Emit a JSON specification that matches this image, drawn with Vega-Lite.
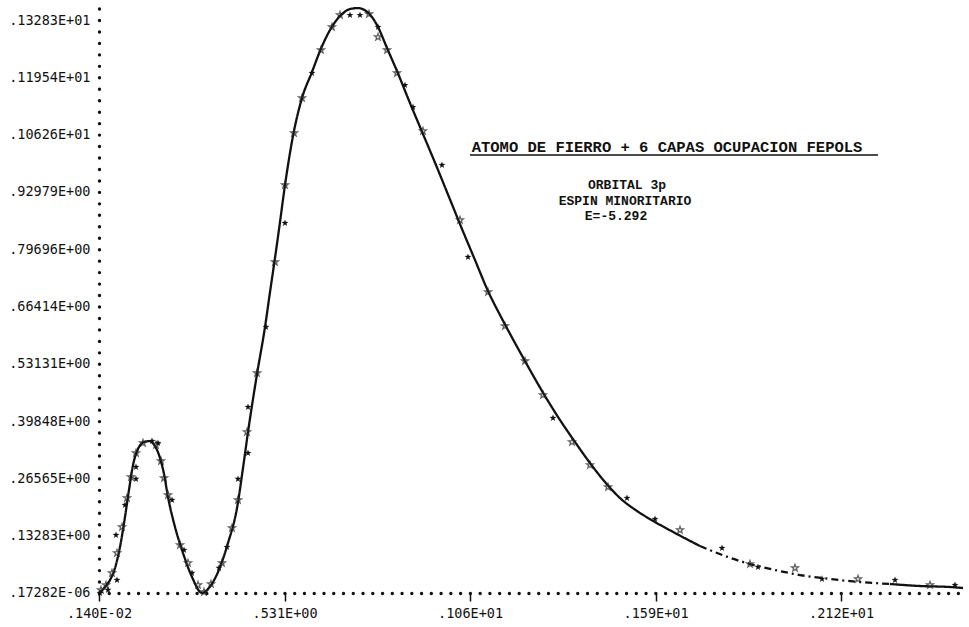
{
  "$schema": "https://vega.github.io/schema/vega-lite/v6.json",
  "width": 864,
  "height": 588,
  "autosize": "none",
  "padding": {"left": 99, "top": 5, "right": 6, "bottom": 34},
  "background": "white",
  "config": {
    "view": {"stroke": null},
    "axis": {
      "grid": false,
      "title": null,
      "domainColor": "#111",
      "domainCap": "round",
      "domainWidth": 3.4,
      "labelFont": "DejaVu Sans Mono",
      "labelFontSize": 13.5,
      "labelColor": "#111",
      "labelOverlap": false,
      "labelFlush": false
    }
  },
  "datasets": {
    "curve": [
      {"r": 0.0014, "p": 0.0, "seg": "a1"},
      {"r": 0.0185, "p": 0.0139, "seg": "a1"},
      {"r": 0.0328, "p": 0.0301, "seg": "a1"},
      {"r": 0.0471, "p": 0.058, "seg": "a1"},
      {"r": 0.0613, "p": 0.1066, "seg": "a1"},
      {"r": 0.0756, "p": 0.1762, "seg": "a1"},
      {"r": 0.087, "p": 0.2388, "seg": "a1"},
      {"r": 0.0985, "p": 0.2967, "seg": "a1"},
      {"r": 0.1127, "p": 0.3338, "seg": "a1"},
      {"r": 0.1299, "p": 0.35, "seg": "a1"},
      {"r": 0.147, "p": 0.3523, "seg": "a1"},
      {"r": 0.1613, "p": 0.3407, "seg": "a1"},
      {"r": 0.1755, "p": 0.3129, "seg": "a1"},
      {"r": 0.187, "p": 0.2758, "seg": "a1"},
      {"r": 0.1984, "p": 0.2225, "seg": "a1"},
      {"r": 0.2184, "p": 0.153, "seg": "a1"},
      {"r": 0.2412, "p": 0.0927, "seg": "a1"},
      {"r": 0.2669, "p": 0.0371, "seg": "a1"},
      {"r": 0.2954, "p": 0.0, "seg": "a1"},
      {"r": 0.3126, "p": 0.0093, "seg": "a1"},
      {"r": 0.3411, "p": 0.0487, "seg": "a1"},
      {"r": 0.3697, "p": 0.1159, "seg": "a1"},
      {"r": 0.3954, "p": 0.197, "seg": "a1"},
      {"r": 0.4125, "p": 0.2898, "seg": "a1"},
      {"r": 0.4268, "p": 0.3732, "seg": "a1"},
      {"r": 0.4525, "p": 0.5076, "seg": "a1"},
      {"r": 0.4753, "p": 0.6166, "seg": "a1"},
      {"r": 0.4896, "p": 0.6977, "seg": "a1"},
      {"r": 0.5038, "p": 0.7765, "seg": "a1"},
      {"r": 0.5181, "p": 0.86, "seg": "a1"},
      {"r": 0.5324, "p": 0.9457, "seg": "a1"},
      {"r": 0.5552, "p": 1.0593, "seg": "a1"},
      {"r": 0.5809, "p": 1.1474, "seg": "a1"},
      {"r": 0.6094, "p": 1.2077, "seg": "a1"},
      {"r": 0.6323, "p": 1.2564, "seg": "a1"},
      {"r": 0.6608, "p": 1.305, "seg": "a1"},
      {"r": 0.6894, "p": 1.3375, "seg": "a1"},
      {"r": 0.7179, "p": 1.3537, "seg": "a1"},
      {"r": 0.7407, "p": 1.356, "seg": "a1"},
      {"r": 0.7636, "p": 1.3491, "seg": "a1"},
      {"r": 0.7807, "p": 1.3352, "seg": "a1"},
      {"r": 0.7979, "p": 1.312, "seg": "a1"},
      {"r": 0.8236, "p": 1.2633, "seg": "a1"},
      {"r": 0.8521, "p": 1.21, "seg": "a1"},
      {"r": 0.8892, "p": 1.1358, "seg": "a1"},
      {"r": 0.9263, "p": 1.064, "seg": "a1"},
      {"r": 0.9634, "p": 0.9921, "seg": "a1"},
      {"r": 1.0006, "p": 0.9179, "seg": "a1"},
      {"r": 1.0377, "p": 0.8438, "seg": "a1"},
      {"r": 1.0748, "p": 0.7719, "seg": "a1"},
      {"r": 1.1119, "p": 0.7, "seg": "a1"},
      {"r": 1.1462, "p": 0.6444, "seg": "a1"},
      {"r": 1.189, "p": 0.5795, "seg": "a1"},
      {"r": 1.2318, "p": 0.5169, "seg": "a1"},
      {"r": 1.2747, "p": 0.4566, "seg": "a1"},
      {"r": 1.3175, "p": 0.401, "seg": "a1"},
      {"r": 1.3603, "p": 0.35, "seg": "a1"},
      {"r": 1.4031, "p": 0.3013, "seg": "a1"},
      {"r": 1.4459, "p": 0.2573, "seg": "a1"},
      {"r": 1.4887, "p": 0.2202, "seg": "a1"},
      {"r": 1.5373, "p": 0.1901, "seg": "a1"},
      {"r": 1.5887, "p": 0.1646, "seg": "a1"},
      {"r": 1.6458, "p": 0.1391, "seg": "a1"},
      {"r": 1.717, "p": 0.1089, "seg": "a1"},
      {"r": 1.717, "p": 0.1089, "seg": "b"},
      {"r": 1.7884, "p": 0.0858, "seg": "b"},
      {"r": 1.8598, "p": 0.0672, "seg": "b"},
      {"r": 1.9311, "p": 0.0533, "seg": "b"},
      {"r": 2.0025, "p": 0.0417, "seg": "b"},
      {"r": 2.0881, "p": 0.0325, "seg": "b"},
      {"r": 2.1738, "p": 0.0255, "seg": "b"},
      {"r": 2.2594, "p": 0.0209, "seg": "b"},
      {"r": 2.2594, "p": 0.0209, "seg": "a2"},
      {"r": 2.3451, "p": 0.0162, "seg": "a2"},
      {"r": 2.4307, "p": 0.0139, "seg": "a2"},
      {"r": 2.4679, "p": 0.0116, "seg": "a2"}
    ],
    "open": [
      {"r": 0.0071, "p": 0.007}, {"r": 0.0214, "p": 0.0185}, {"r": 0.0385, "p": 0.0464},
      {"r": 0.0528, "p": 0.0927}, {"r": 0.0671, "p": 0.153}, {"r": 0.0813, "p": 0.2202},
      {"r": 0.0928, "p": 0.2689}, {"r": 0.107, "p": 0.3245}, {"r": 0.127, "p": 0.3477},
      {"r": 0.1641, "p": 0.3431}, {"r": 0.1784, "p": 0.306}, {"r": 0.187, "p": 0.2666},
      {"r": 0.1984, "p": 0.2272}, {"r": 0.2327, "p": 0.1113}, {"r": 0.2555, "p": 0.0695},
      {"r": 0.284, "p": 0.0185}, {"r": 0.3011, "p": 0.0023}, {"r": 0.3211, "p": 0.0209},
      {"r": 0.3525, "p": 0.0695}, {"r": 0.3811, "p": 0.1507}, {"r": 0.3982, "p": 0.2156},
      {"r": 0.4239, "p": 0.3732}, {"r": 0.4525, "p": 0.51}, {"r": 0.5038, "p": 0.7673},
      {"r": 0.5324, "p": 0.9457}, {"r": 0.5581, "p": 1.0663}, {"r": 0.5809, "p": 1.1474},
      {"r": 0.6351, "p": 1.2587}, {"r": 0.6665, "p": 1.312}, {"r": 0.6894, "p": 1.3398},
      {"r": 0.7722, "p": 1.3421}, {"r": 0.7979, "p": 1.2888}, {"r": 0.8236, "p": 1.2587},
      {"r": 0.8521, "p": 1.2054}, {"r": 0.9263, "p": 1.0709}, {"r": 1.0319, "p": 0.8646},
      {"r": 1.1119, "p": 0.6977}, {"r": 1.1604, "p": 0.6189}, {"r": 1.2175, "p": 0.5378},
      {"r": 1.2689, "p": 0.459}, {"r": 1.3517, "p": 0.35}, {"r": 1.4031, "p": 0.2967},
      {"r": 1.4545, "p": 0.2457}, {"r": 1.66, "p": 0.146}, {"r": 1.8598, "p": 0.0672},
      {"r": 1.9883, "p": 0.058}, {"r": 2.1682, "p": 0.0325}, {"r": 2.3737, "p": 0.0185}
    ],
    "stars": [
      {"r": 0.0043, "p": 0.0}, {"r": 0.0271, "p": 0.007}, {"r": 0.0499, "p": 0.1344},
      {"r": 0.0528, "p": 0.0301}, {"r": 0.0756, "p": 0.204}, {"r": 0.107, "p": 0.2921},
      {"r": 0.107, "p": 0.2643}, {"r": 0.1527, "p": 0.3523}, {"r": 0.1698, "p": 0.3477},
      {"r": 0.2098, "p": 0.2156}, {"r": 0.2441, "p": 0.0997}, {"r": 0.2669, "p": 0.0464},
      {"r": 0.344, "p": 0.058}, {"r": 0.3668, "p": 0.1066}, {"r": 0.3982, "p": 0.2643},
      {"r": 0.4268, "p": 0.3245}, {"r": 0.4268, "p": 0.4311}, {"r": 0.4781, "p": 0.6166},
      {"r": 0.5324, "p": 0.8577}, {"r": 0.6094, "p": 1.2054}, {"r": 0.7179, "p": 1.3398},
      {"r": 0.7465, "p": 1.3398}, {"r": 0.7979, "p": 1.312}, {"r": 0.8749, "p": 1.1775},
      {"r": 0.8978, "p": 1.1265}, {"r": 0.9805, "p": 0.9921}, {"r": 1.0548, "p": 0.7789},
      {"r": 1.2974, "p": 0.4057}, {"r": 1.5087, "p": 0.2202}, {"r": 1.5887, "p": 0.1715},
      {"r": 1.7799, "p": 0.1043}, {"r": 1.8827, "p": 0.0603}, {"r": 2.0654, "p": 0.0325},
      {"r": 2.2738, "p": 0.0301}, {"r": 2.4451, "p": 0.0185}
    ],
    "title": [
      {"r": 1.6229, "p": 1.0338, "r2": 1.0605, "r3": 2.2252, "u": 1.0153, "label": "ATOMO DE FIERRO + 6 CAPAS OCUPACION FEPOLS"}
    ],
    "notes": [
      {"r": 1.5087, "p": 0.9457, "label": "ORBITAL 3p"},
      {"r": 1.503, "p": 0.9087, "label": "ESPIN MINORITARIO"},
      {"r": 1.4773, "p": 0.8739, "label": "E=-5.292"}
    ]
  },
  "layer": [
    {
      "data": {"name": "curve"},
      "mark": {"type": "line", "interpolate": "monotone", "strokeWidth": 2.3, "color": "#111"},
      "encoding": {
        "x": {
          "field": "r", "type": "quantitative",
          "scale": {"domain": [0.0014, 2.4679], "nice": false, "zero": false},
          "axis": {
            "values": [0.0014, 0.531, 1.0606, 1.5902, 2.1198],
            "labelExpr": "['.140E-02','.531E+00','.106E+01','.159E+01','.212E+01'][round((datum.value-0.0014)/0.5296)]",
            "domainDash": [0, 9.76],
            "ticks": true, "tickSize": 8, "tickWidth": 1.5, "tickColor": "#111",
            "labelPadding": 5
          }
        },
        "y": {
          "field": "p", "type": "quantitative",
          "scale": {"domain": [0, 1.3631], "nice": false, "zero": true},
          "axis": {
            "values": [1.7282e-7, 0.13283, 0.26565, 0.39848, 0.53131, 0.66414, 0.79696, 0.92979, 1.0626, 1.1954, 1.3283],
            "labelExpr": "['.17282E-06','.13283E+00','.26565E+00','.39848E+00','.53131E+00','.66414E+00','.79696E+00','.92979E+00','.10626E+01','.11954E+01','.13283E+01'][round(datum.value/0.13283)]",
            "domainDash": [0, 11.46],
            "ticks": false,
            "labelPadding": 9
          }
        },
        "strokeDash": {
          "field": "seg", "type": "nominal",
          "scale": {"domain": ["a1", "b", "a2"], "range": [[1, 0], [7, 4, 2, 4], [1, 0]]},
          "legend": null
        }
      }
    },
    {
      "data": {"name": "open"},
      "mark": {
        "type": "point", "filled": false, "size": 52, "strokeWidth": 1.3, "color": "#222",
        "shape": "M0,-1L0.235,-0.324L0.951,-0.309L0.38,0.124L0.588,0.809L0,0.4L-0.588,0.809L-0.38,0.124L-0.951,-0.309L-0.235,-0.324Z"
      },
      "encoding": {
        "x": {"field": "r", "type": "quantitative"},
        "y": {"field": "p", "type": "quantitative"}
      }
    },
    {
      "data": {"name": "stars"},
      "mark": {
        "type": "point", "filled": true, "size": 52, "opacity": 1, "color": "#111",
        "shape": "M0,-1L0.235,-0.324L0.951,-0.309L0.38,0.124L0.588,0.809L0,0.4L-0.588,0.809L-0.38,0.124L-0.951,-0.309L-0.235,-0.324Z"
      },
      "encoding": {
        "x": {"field": "r", "type": "quantitative"},
        "y": {"field": "p", "type": "quantitative"}
      }
    },
    {
      "data": {"name": "title"},
      "mark": {"type": "text", "font": "Liberation Mono", "fontWeight": "bold", "fontSize": 15.5, "color": "#111", "align": "center", "baseline": "middle"},
      "encoding": {
        "x": {"field": "r", "type": "quantitative"},
        "y": {"field": "p", "type": "quantitative"},
        "text": {"field": "label"}
      }
    },
    {
      "data": {"name": "title"},
      "mark": {"type": "rule", "strokeWidth": 1.6, "color": "#111"},
      "encoding": {
        "x": {"field": "r2", "type": "quantitative"},
        "x2": {"field": "r3"},
        "y": {"field": "u", "type": "quantitative"}
      }
    },
    {
      "data": {"name": "notes"},
      "mark": {"type": "text", "font": "Liberation Mono", "fontWeight": "bold", "fontSize": 13, "color": "#111", "align": "center", "baseline": "middle"},
      "encoding": {
        "x": {"field": "r", "type": "quantitative"},
        "y": {"field": "p", "type": "quantitative"},
        "text": {"field": "label"}
      }
    }
  ]
}
